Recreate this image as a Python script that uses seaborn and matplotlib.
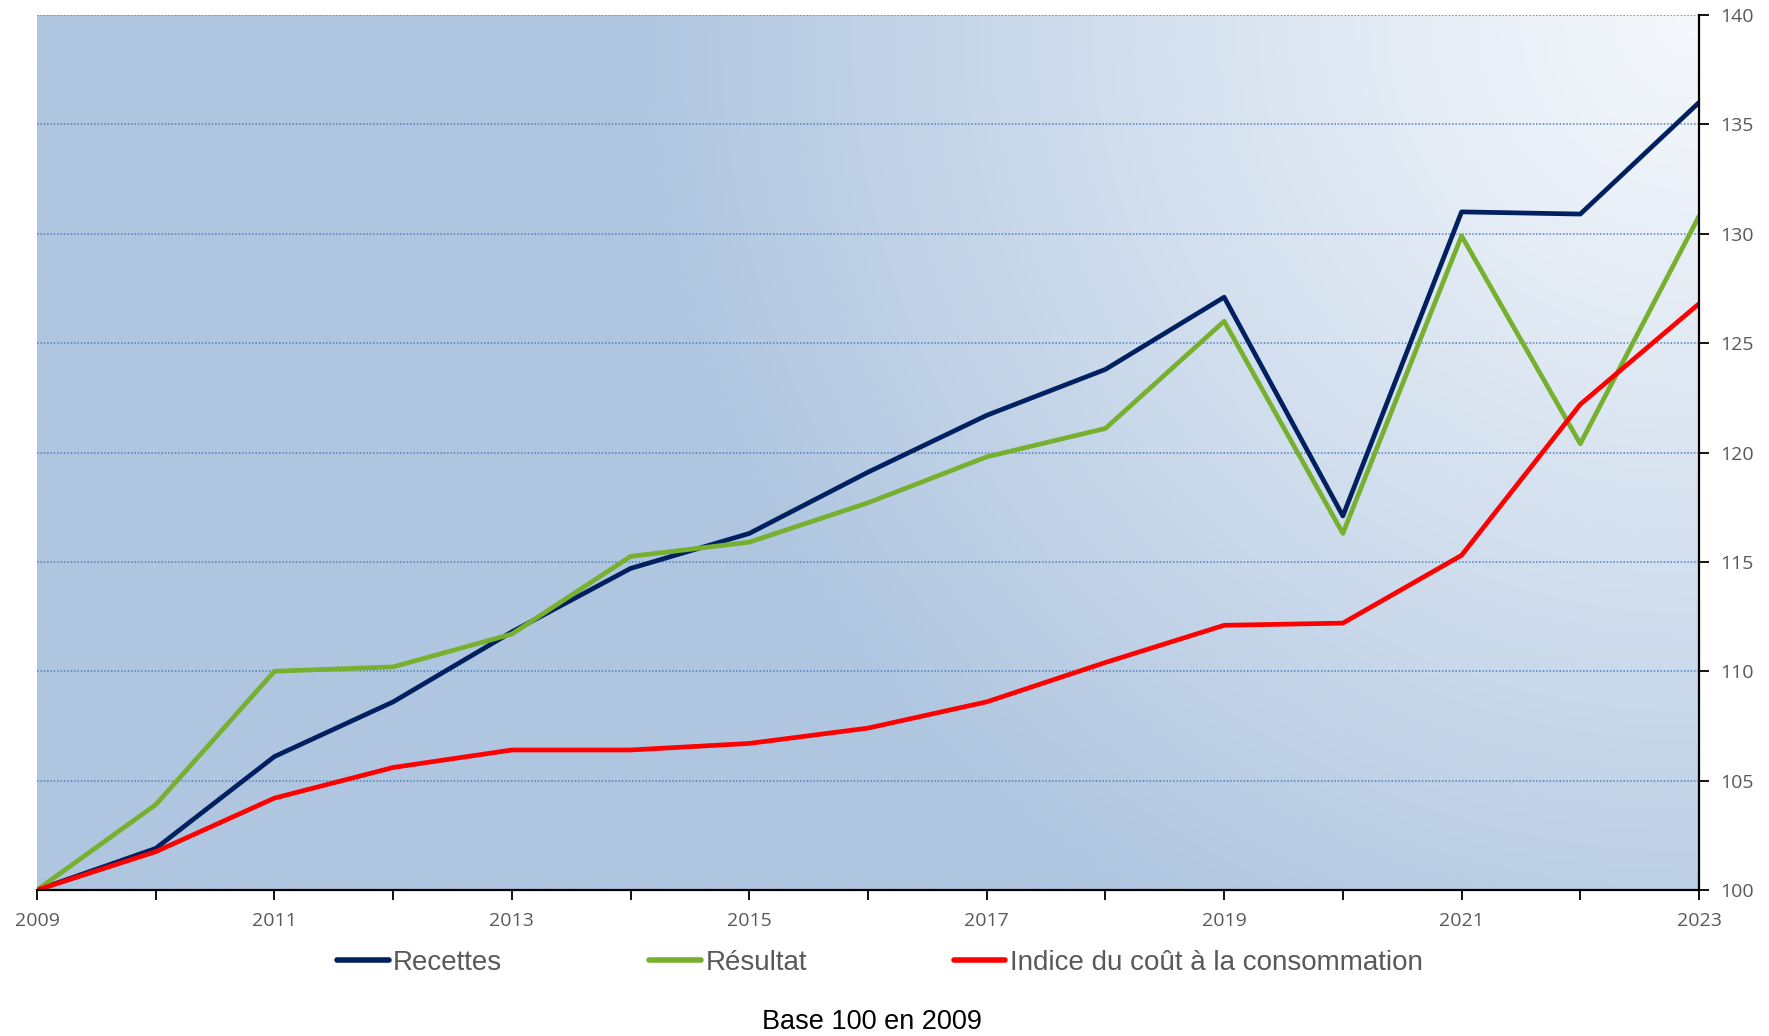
import numpy as np
import pandas as pd
import matplotlib
matplotlib.use("Agg")
import matplotlib.pyplot as plt
import seaborn as sns
from matplotlib.colors import to_rgb
from matplotlib.lines import Line2D

years = list(range(2009, 2024))
recettes = [100, 101.9, 106.1, 108.6, 111.8, 114.7, 116.3, 119.1, 121.7, 123.8, 127.1, 117.1, 131.0, 130.9, 136.0]
resultat = [100, 103.9, 110.0, 110.2, 111.7, 115.25, 115.9, 117.7, 119.8, 121.1, 126.0, 116.3, 129.9, 120.4, 130.8]
indice = [100, 101.75, 104.2, 105.6, 106.4, 106.4, 106.7, 107.4, 108.6, 110.4, 112.1, 112.2, 115.3, 122.2, 126.8]
series_names = ["Recettes", "Résultat", "Indice du coût à la consommation"]
series_colors = ["#002060", "#77B02E", "#FF0000"]
y_ticks = [100, 105, 110, 115, 120, 125, 130, 135, 140]
note = "Base 100 en 2009"

df = pd.concat([
    pd.DataFrame({"Année": years, "Valeur": vals, "Série": name})
    for name, vals in zip(series_names, [recettes, resultat, indice])
])

sns.set_theme(style="white")
plt.rcParams['font.family'] = ['Liberation Sans', 'DejaVu Sans']

fig = plt.figure(figsize=(17.69, 10.36), dpi=100)
ax = fig.add_axes([37/1769, 1 - 890/1036, (1699 - 37)/1769, (890 - 15)/1036])

# gradient background (radial from top-right corner)
nx, ny = 400, 300
gx, gy = np.meshgrid(np.linspace(0, 1, nx), np.linspace(0, 1, ny))
dx = (1 - gx) / 0.64
dy = (1 - gy) / 1.2
t = np.clip(np.sqrt(dx**2 + dy**2), 0, 1)
light = np.array(to_rgb("#F5F8FC"))
dark = np.array(to_rgb("#B0C6E0"))
img = light + (dark - light) * (t[..., None] ** 1.1)
ax.imshow(img, extent=(0, 1, 0, 1), origin="lower", transform=ax.transAxes,
          aspect="auto", zorder=0, interpolation="bilinear")

sns.lineplot(data=df, x="Année", y="Valeur", hue="Série", palette=series_colors,
             hue_order=series_names, linewidth=3.4, ax=ax, legend=False, zorder=3)

ax.set_xlim(2009, 2023)
ax.set_ylim(100, 140)
ax.set_xlabel("")
ax.set_ylabel("")

ax.set_xticks(years)
ax.set_xticklabels([str(y) if (y - 2009) % 2 == 0 else "" for y in years])
ax.set_yticks(y_ticks)
ax.yaxis.tick_right()
ax.tick_params(axis="x", direction="out", length=7, width=1.3, color="black",
               labelsize=14, labelcolor="#595959", pad=9, bottom=True)
ax.tick_params(axis="y", direction="out", length=7, width=1.3, color="black",
               labelsize=14, labelcolor="#595959", pad=8, right=True, left=False)
for lab in ax.get_xticklabels() + ax.get_yticklabels():
    lab.set_fontfamily(["Open Sans", "DejaVu Sans"])

for yv in y_ticks[1:]:
    ax.axhline(yv, color="#4F81BD", linestyle=(0, (1, 1.2)), linewidth=1.1, zorder=1)

for s in ["top", "left"]:
    ax.spines[s].set_visible(False)
for s in ["bottom", "right"]:
    ax.spines[s].set_visible(True)
    ax.spines[s].set_color("black")
    ax.spines[s].set_linewidth(1.6)
    ax.spines[s].set_zorder(4)

handles = [Line2D([0], [0], color=c, linewidth=4, solid_capstyle="round") for c in series_colors]
leg = fig.legend(handles, series_names, loc="center", bbox_to_anchor=(880/1769, 1 - 963/1036),
                 ncol=3, frameon=False, fontsize=20, handlelength=1.85, handletextpad=0.16,
                 columnspacing=5.3, borderpad=0)
for txt in leg.get_texts():
    txt.set_color("#595959")

fig.text(872/1769, 1 - 1022/1036, note, ha="center", va="center", fontsize=19.5, color="black")

fig.savefig("out.png", dpi=100)
